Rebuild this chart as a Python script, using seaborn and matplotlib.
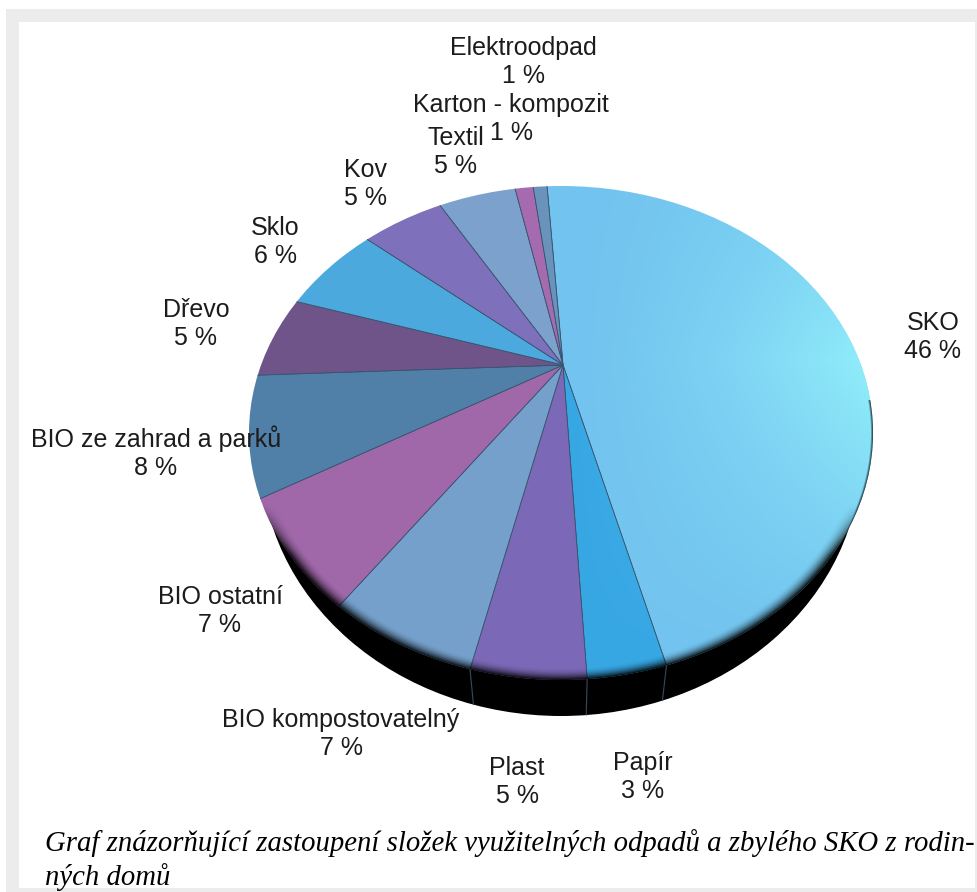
import numpy as np
import matplotlib
matplotlib.use("Agg")
import matplotlib.pyplot as plt
from matplotlib.patches import Ellipse, Rectangle
import seaborn as sns

# wedge order, clockwise from the top
names = ["SKO", "Papír", "Plast", "BIO kompostovatelný", "BIO ostatní",
         "BIO ze zahrad a parků", "Dřevo", "Sklo", "Kov", "Textil",
         "Karton - kompozit", "Elektroodpad"]
percents = [46, 3, 5, 7, 7, 8, 5, 6, 5, 5, 1, 1]
# angle each slice takes up in the tilted drawing
drawn_degrees = [166.1, 14.6, 21.4, 25.9, 23.3, 21.9, 15.3, 19.3, 19.7, 22.4, 5.7, 4.4]
colors = ["#72c3ef", "#37a7e4", "#7b68b6", "#75a0cb", "#a068a9", "#507fa8",
          "#6e5488", "#4ba9de", "#7f70bb", "#7ba1cc", "#a66aae", "#6a93bb"]
label_centers = [(933, 337), (643, 777), (517, 782), (341, 734), (220, 611),
                 (156, 453), (196, 324), (275, 242), (365, 184), (456, 152),
                 (511, 119), (523, 62)]
caption_lines = ["Graf znázorňující zastoupení složek využitelných odpadů a zbylého SKO z rodin-",
                 "ných domů"]

W, H = 978, 892
APEX = (563, 365)
TOP = dict(cx=561, cy=433, a=312, b=247)
BOTTOM = dict(cx=561, cy=455, a=300, b=261)


def flip(y):
    return H - y


def make_ellipse(e, **kw):
    return Ellipse((e["cx"], flip(e["cy"])), 2 * e["a"], 2 * e["b"], **kw)


def draw_frame(ax):
    ax.add_patch(Rectangle((6, flip(892)), 972, 883, fc="#ececec", ec="none", zorder=0))
    ax.add_patch(Rectangle((19, flip(888)), 956, 866, fc="white", ec="none", zorder=0.5))


def draw_side_walls(ax):
    ax.add_patch(make_ellipse(BOTTOM, fc="black", ec="none", zorder=1))
    # separators visible on the front wall
    cuts = 95.1 - np.cumsum(drawn_degrees[:3])
    for cut in np.radians(cuts):
        d = np.array([np.cos(cut), np.sin(cut)])
        A = (d[0] / TOP["a"]) ** 2 + (d[1] / TOP["b"]) ** 2
        ox, oy = APEX[0] - TOP["cx"], TOP["cy"] - APEX[1]
        B = 2 * (ox * d[0] / TOP["a"] ** 2 + oy * d[1] / TOP["b"] ** 2)
        C = (ox / TOP["a"]) ** 2 + (oy / TOP["b"]) ** 2 - 1
        t = (-B + np.sqrt(B * B - 4 * A * C)) / (2 * A)
        dx = ox + t * d[0]
        dx2 = dx * BOTTOM["a"] / TOP["a"]
        y1 = TOP["cy"] + TOP["b"] * np.sqrt(1 - (dx / TOP["a"]) ** 2)
        y2 = BOTTOM["cy"] + BOTTOM["b"] * np.sqrt(1 - (dx2 / BOTTOM["a"]) ** 2)
        ax.plot([TOP["cx"] + dx, BOTTOM["cx"] + dx2], [flip(y1), flip(y2)],
                color="#3b4a58", lw=0.8, zorder=1.5)


def draw_shading(ax, clip):
    xs, ys = np.meshgrid(np.arange(W) + 0.5, np.arange(H) + 0.5)
    e = np.hypot((xs - TOP["cx"]) / TOP["a"], (ys - TOP["cy"]) / TOP["b"])

    # pale cyan glow towards the right rim
    glow = np.clip((xs - 560) / 310, 0, 1) ** 1.5 * np.clip(1 - np.abs(ys - 360) / 300, 0, 1)
    rgba = np.zeros((H, W, 4))
    rgba[..., :3] = matplotlib.colors.to_rgb("#93f2fc")
    rgba[..., 3] = glow * 0.95
    im = ax.imshow(rgba, extent=(0, W, 0, H), origin="upper", zorder=3, aspect="auto")
    im.set_clip_path(clip)

    # dark soft edge along the front rim, thin line further up the right side
    front = np.clip((ys - 505) / 50, 0, 1)
    rim = np.clip((e - 0.95) / 0.05, 0, 1) ** 2 * front
    hairline = np.clip((e - 0.992) / 0.008, 0, 1) * (ys > 400) * (xs > 561) * 0.8
    rgba = np.zeros((H, W, 4))
    rgba[..., 3] = np.maximum(rim * 0.95, hairline)
    im = ax.imshow(rgba, extent=(0, W, 0, H), origin="upper", zorder=4, aspect="auto")
    im.set_clip_path(clip)


def main():
    sns.set_theme(style="white")
    plt.rcParams["font.family"] = ["Liberation Sans", "DejaVu Sans"]

    fig = plt.figure(figsize=(W / 100, H / 100), dpi=100)
    ax = fig.add_axes([0, 0, 1, 1])
    draw_frame(ax)
    draw_side_walls(ax)

    wedges, _ = ax.pie(drawn_degrees, colors=sns.color_palette(colors), startangle=95.1,
                       counterclock=False, center=(APEX[0], flip(APEX[1])), radius=640,
                       wedgeprops=dict(linewidth=0.6, edgecolor="#3a5470", zorder=2))
    clip = make_ellipse(TOP, transform=ax.transData, fc="none", ec="none")
    ax.add_patch(clip)
    for w in wedges:
        w.set_clip_on(True)
        w.set_clip_path(clip)
    draw_shading(ax, clip)

    for name, pct, (x, y) in zip(names, percents, label_centers):
        ax.text(x, flip(y), f"{name}\n{pct} %", ha="center", va="center", fontsize=18,
                color="#1c1c1c", linespacing=1.2, zorder=6)

    for line, y in zip(caption_lines, (851, 885)):
        ax.text(45, flip(y), line, ha="left", va="baseline", fontsize=20.7, style="italic",
                family="Liberation Serif", color="black", zorder=6)

    ax.set_xlim(0, W)
    ax.set_ylim(0, H)
    ax.set_aspect("auto")
    ax.axis("off")
    fig.savefig("out.png", dpi=100)


if __name__ == "__main__":
    main()
